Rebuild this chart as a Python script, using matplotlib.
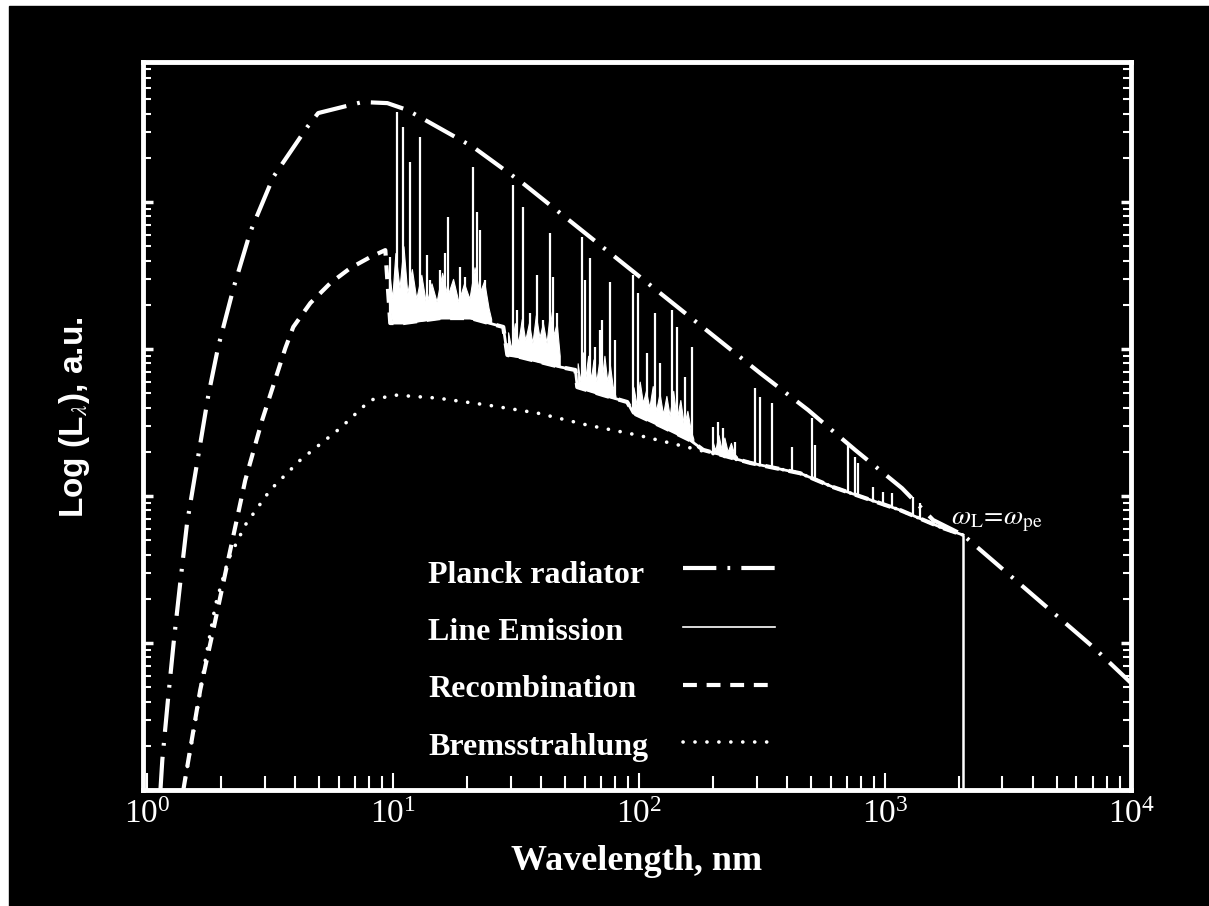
import numpy as np
import matplotlib.pyplot as plt
from matplotlib.lines import Line2D
from matplotlib.patches import Rectangle
from matplotlib.ticker import LogLocator, NullFormatter

plt.rcParams['font.family'] = ['Liberation Serif', 'DejaVu Serif']
plt.rcParams['mathtext.fontset'] = 'stix'
plt.rcParams['lines.scale_dashes'] = False

# Planck radiator (wavelength nm, luminosity a.u.)
planck_lam = [1.13, 1.15, 1.21, 1.28, 1.36, 1.45, 1.60, 1.77, 1.94, 2.24, 2.62, 3.25,
              4.47, 4.95, 7.48, 9.46, 11.4, 21.1, 33.5, 310, 486, 755, 1172, 1567,
              2075, 7010, 10000]
planck_L = [1.0, 1.60, 3.97, 10.2, 25.6, 65.5, 176, 486, 1033, 2600, 6250, 14800,
            32400, 40300, 47900, 47100, 42300, 23700, 13500, 687, 385, 206, 113, 68.7,
            54.3, 9.40, 5.35]

# Recombination continuum (with edges)
recomb_lam = [1.40, 1.64, 1.89, 2.13, 2.50, 2.93, 3.64, 3.92, 4.60, 5.55, 6.69, 8.07,
              9.28, 9.72, 11.0, 15.5, 20.6, 28.0, 29.1, 32.8, 47.7, 55.0, 56.0, 71.5,
              89.4, 94.6, 125, 161, 182, 283, 451, 615, 1150, 1675, 2075]
recomb_L = [1.0, 4.79, 14.3, 36.7, 128, 329, 1016, 1413, 2056, 2812, 3556, 4227,
            4710, 1503, 1503, 1625, 1625, 1413, 911, 883, 755, 720, 551, 486,
            436, 367, 295, 240, 206, 168, 143, 115, 80.3, 61.5, 54.3]

# Bremsstrahlung
brems_lam = [1.40, 1.57, 1.72, 1.89, 2.13, 2.50, 3.16, 4.19, 6.09, 8.07, 10.2, 15.1,
             24.1, 38.5, 61.5, 98.2, 157, 283, 451, 615, 1150, 1675, 2075]
brems_L = [1.0, 2.99, 7.66, 18.1, 36.7, 63.5, 110, 176, 290, 450, 486, 464,
           416, 367, 304, 260, 215, 168, 143, 115, 80.3, 61.5, 54.3]

# Line emission: spike positions and peak values
line_lam = [9.7, 10.4, 11.0, 11.7, 12.9, 13.7, 14.1, 15.5, 16.3, 16.7, 18.7, 19.6,
            21.0, 21.9, 22.6, 23.7,
            30.7, 31.9, 33.8, 36.0, 38.5, 40.7, 43.5, 44.7, 46.4,
            58.7, 60.3, 63.2, 66.2, 69.4, 70.8, 76.3, 79.9,
            94.6, 99.1, 108, 116, 122, 136, 143, 154, 164,
            200, 210, 219, 245, 296, 310, 347, 419, 505, 519,
            708, 755, 777, 893, 982, 1070, 1300, 1390]
line_peak = [4230, 40900, 32400, 18700, 27700, 4360, 2950, 3450, 4500, 7900, 3610, 3090,
             17300, 8550, 6450, 2950,
             13100, 1840, 9250, 1760, 3190, 1570, 6150, 3090, 1760,
             5780, 2950, 4160, 1030, 1350, 1570, 2860, 1150,
             3190, 2400, 940, 1760, 803, 1840, 1410, 645, 1030,
             295, 318, 290, 233, 543, 471, 429, 215, 340, 222,
             229, 184, 168, 115, 106, 105, 98.5, 89.6]
cutoff_lam = 2075

# dense blends of lines (jagged upper envelope)
massA_lam = [9.6, 9.9, 10.2, 10.6, 11.0, 11.4, 11.9, 12.4, 13.0, 13.6, 14.3, 15.0,
             15.8, 16.6, 17.5, 18.4, 19.4, 20.4, 21.4, 22.4, 23.4, 24.4, 25.0]
massA_top = [3500, 2200, 4500, 2600, 5000, 2400, 3500, 2200, 3200, 2000, 2800, 2100,
             3300, 2300, 3000, 2100, 2800, 2200, 3600, 2400, 2900, 1900, 1600]
massB_lam = [29.3, 30.2, 31.2, 32.2, 33.3, 34.4, 35.6, 36.8, 38.0, 39.3, 40.6, 42.0,
             43.4, 44.8, 46.2, 47.5]
massB_top = [1300, 1000, 1500, 1100, 1600, 1150, 1500, 1100, 1700, 1200, 1500, 1100,
             1800, 1250, 1500, 900]
massC_lam = [56.2, 57.6, 59.0, 60.5, 62.0, 63.6, 65.2, 66.9, 68.6, 70.4, 72.2, 74.1,
             76.0, 78.0, 80.0]
massC_top = [800, 600, 950, 650, 900, 620, 850, 600, 800, 620, 900, 600, 780, 560, 480]
massD_lam = [94.8, 97.5, 100.5, 103.5, 106.5, 110, 113.5, 117, 121, 125, 129, 133,
             137.5, 142, 147, 152, 157, 162, 166]
massD_top = [550, 420, 600, 430, 520, 400, 560, 380, 500, 360, 480, 350, 520, 330,
             450, 300, 380, 280, 245]
massE_lam = [198, 204, 210, 216, 222, 229, 236, 243, 250]
massE_top = [240, 205, 260, 210, 250, 200, 230, 195, 185]

legend_names = ['Planck radiator', 'Line Emission', 'Recombination', 'Bremsstrahlung']

W = 'white'
fig = plt.figure(figsize=(12.09, 9.06), dpi=100)
fig.patch.set_facecolor('white')
fig.add_artist(Rectangle((9 / 1209, 0), 1, 1 - 6 / 906, transform=fig.transFigure,
                         color='black', zorder=-10))
ax = fig.add_axes([0.1183, 0.128, 0.8172, 0.8035])
ax.set_facecolor('black')
ax.set_xscale('log')
ax.set_yscale('log')


def base(lam):
    return 10 ** np.interp(np.log10(lam), np.log10(recomb_lam), np.log10(recomb_L))


planck_ls = (0, (24, 8, 2, 8))
recomb_ls = (0, (10, 7))
brems_ls = (0, (0.1, 8.5))

ax.plot(planck_lam, planck_L, color=W, lw=3, ls=planck_ls)
ax.plot(recomb_lam, recomb_L, color=W, lw=3, ls=recomb_ls)
ax.plot(brems_lam, brems_L, color=W, lw=2.6, ls=brems_ls, dash_capstyle='round')

# line emission
mask = np.array(recomb_lam) >= 9.72
ax.plot(np.array(recomb_lam)[mask], np.array(recomb_L)[mask], color=W, lw=2)
for ml, mt in [(massA_lam, massA_top), (massB_lam, massB_top), (massC_lam, massC_top),
               (massD_lam, massD_top), (massE_lam, massE_top)]:
    ml = np.array(ml, float)
    ax.fill_between(ml, base(ml), mt, color=W, lw=0.8)
ll = np.array(line_lam, float)
ax.vlines(ll, base(ll), line_peak, color=W, lw=1.6)
ax.vlines(cutoff_lam, 1, base(cutoff_lam), color=W, lw=1.8)

ax.set_xlim(0.96, 1e4)
ax.set_ylim(1, 8.96e4)

for s in ax.spines.values():
    s.set_color(W)
    s.set_linewidth(3.5)

ax.xaxis.set_major_locator(LogLocator(base=10, numticks=10))
ax.xaxis.set_minor_locator(LogLocator(base=10, subs=np.arange(2, 10), numticks=20))
ax.yaxis.set_major_locator(LogLocator(base=10, numticks=10))
ax.yaxis.set_minor_locator(LogLocator(base=10, subs=np.arange(2, 10), numticks=20))
ax.yaxis.set_major_formatter(NullFormatter())
ax.yaxis.set_minor_formatter(NullFormatter())
ax.xaxis.set_minor_formatter(NullFormatter())

ax.tick_params(axis='x', which='major', direction='in', length=12, width=1.5, color=W,
               labelcolor=W, labelsize=24, pad=7, top=False)
ax.tick_params(axis='x', which='minor', direction='in', length=10, width=1.5, color=W, top=False)
ax.tick_params(axis='y', which='major', direction='in', length=7, width=2.5, color=W,
               left=True, right=True, labelleft=False)
ax.tick_params(axis='y', which='minor', direction='in', length=6, width=1.5, color=W,
               left=True, right=True)

ax.set_xlabel('Wavelength, nm', fontsize=26, fontweight='bold', color=W)
ax.xaxis.set_label_coords(0.5, -0.076)
fig.text(75 / 1209, 1 - 417 / 906, r'Log (L$_{\lambda}$), a.u.', rotation=90, ha='center',
         va='center', fontsize=24, fontweight='bold', color=W, family='Liberation Sans')

ax.text(0.818, 0.365, r'$\omega_{\rm L}\!=\!\omega_{\rm pe}$', transform=ax.transAxes,
        fontsize=20, color=W)

# legend drawn as label + sample, like the original
text_y = [1 - 583 / 906, 1 - 640 / 906, 1 - 697 / 906, 1 - 755 / 906]
sample_y = [1 - 568 / 906, 1 - 627 / 906, 1 - 685 / 906, 1 - 742 / 906]
styles = [dict(lw=3, ls=planck_ls), dict(lw=1.2, ls='-'), dict(lw=3, ls=recomb_ls),
          dict(lw=2.6, ls=brems_ls, dash_capstyle='round')]
for name, ty, sy, st in zip(legend_names, text_y, sample_y, styles):
    fig.text(428 / 1209, ty, name, fontsize=23, fontweight='bold', color=W, va='baseline')
    fig.add_artist(Line2D([683 / 1209, 775 / 1209], [sy, sy], transform=fig.transFigure,
                          color=W, **st))

fig.savefig('out.png', dpi=100, facecolor=fig.get_facecolor())
